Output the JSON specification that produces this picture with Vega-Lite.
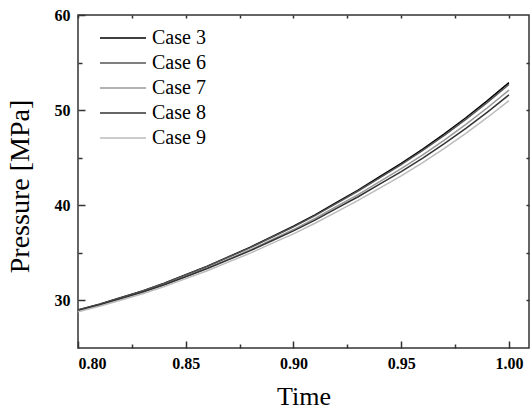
{
  "$schema": "https://vega.github.io/schema/vega-lite/v6.json",
  "width": 451,
  "height": 333,
  "autosize": "none",
  "padding": {"left": 78, "top": 15, "right": 1, "bottom": 62},
  "background": "white",
  "data": {"values": [
    {"t":0.80,"p":29.0,"c":"Case 3"},{"t":0.81,"p":29.6,"c":"Case 3"},{"t":0.82,"p":30.3,"c":"Case 3"},{"t":0.83,"p":31.0,"c":"Case 3"},{"t":0.84,"p":31.8,"c":"Case 3"},{"t":0.85,"p":32.7,"c":"Case 3"},{"t":0.86,"p":33.6,"c":"Case 3"},{"t":0.87,"p":34.6,"c":"Case 3"},{"t":0.88,"p":35.6,"c":"Case 3"},{"t":0.89,"p":36.7,"c":"Case 3"},{"t":0.90,"p":37.8,"c":"Case 3"},{"t":0.91,"p":39.0,"c":"Case 3"},{"t":0.92,"p":40.3,"c":"Case 3"},{"t":0.93,"p":41.6,"c":"Case 3"},{"t":0.94,"p":43.0,"c":"Case 3"},{"t":0.95,"p":44.4,"c":"Case 3"},{"t":0.96,"p":45.9,"c":"Case 3"},{"t":0.97,"p":47.5,"c":"Case 3"},{"t":0.98,"p":49.2,"c":"Case 3"},{"t":0.99,"p":51.0,"c":"Case 3"},{"t":1.00,"p":52.9,"c":"Case 3"},
    {"t":0.80,"p":29.0,"c":"Case 6"},{"t":0.81,"p":29.6,"c":"Case 6"},{"t":0.82,"p":30.29,"c":"Case 6"},{"t":0.83,"p":30.99,"c":"Case 6"},{"t":0.84,"p":31.78,"c":"Case 6"},{"t":0.85,"p":32.68,"c":"Case 6"},{"t":0.86,"p":33.57,"c":"Case 6"},{"t":0.87,"p":34.56,"c":"Case 6"},{"t":0.88,"p":35.55,"c":"Case 6"},{"t":0.89,"p":36.64,"c":"Case 6"},{"t":0.90,"p":37.73,"c":"Case 6"},{"t":0.91,"p":38.92,"c":"Case 6"},{"t":0.92,"p":40.21,"c":"Case 6"},{"t":0.93,"p":41.5,"c":"Case 6"},{"t":0.94,"p":42.88,"c":"Case 6"},{"t":0.95,"p":44.27,"c":"Case 6"},{"t":0.96,"p":45.76,"c":"Case 6"},{"t":0.97,"p":47.34,"c":"Case 6"},{"t":0.98,"p":49.03,"c":"Case 6"},{"t":0.99,"p":50.81,"c":"Case 6"},{"t":1.00,"p":52.7,"c":"Case 6"},
    {"t":0.80,"p":28.9,"c":"Case 7"},{"t":0.81,"p":29.49,"c":"Case 7"},{"t":0.82,"p":30.18,"c":"Case 7"},{"t":0.83,"p":30.86,"c":"Case 7"},{"t":0.84,"p":31.64,"c":"Case 7"},{"t":0.85,"p":32.51,"c":"Case 7"},{"t":0.86,"p":33.39,"c":"Case 7"},{"t":0.87,"p":34.36,"c":"Case 7"},{"t":0.88,"p":35.32,"c":"Case 7"},{"t":0.89,"p":36.39,"c":"Case 7"},{"t":0.90,"p":37.45,"c":"Case 7"},{"t":0.91,"p":38.61,"c":"Case 7"},{"t":0.92,"p":39.87,"c":"Case 7"},{"t":0.93,"p":41.13,"c":"Case 7"},{"t":0.94,"p":42.49,"c":"Case 7"},{"t":0.95,"p":43.85,"c":"Case 7"},{"t":0.96,"p":45.3,"c":"Case 7"},{"t":0.97,"p":46.85,"c":"Case 7"},{"t":0.98,"p":48.5,"c":"Case 7"},{"t":0.99,"p":50.25,"c":"Case 7"},{"t":1.00,"p":52.1,"c":"Case 7"},
    {"t":0.80,"p":28.95,"c":"Case 8"},{"t":0.81,"p":29.54,"c":"Case 8"},{"t":0.82,"p":30.21,"c":"Case 8"},{"t":0.83,"p":30.88,"c":"Case 8"},{"t":0.84,"p":31.64,"c":"Case 8"},{"t":0.85,"p":32.49,"c":"Case 8"},{"t":0.86,"p":33.35,"c":"Case 8"},{"t":0.87,"p":34.29,"c":"Case 8"},{"t":0.88,"p":35.23,"c":"Case 8"},{"t":0.89,"p":36.27,"c":"Case 8"},{"t":0.90,"p":37.31,"c":"Case 8"},{"t":0.91,"p":38.44,"c":"Case 8"},{"t":0.92,"p":39.67,"c":"Case 8"},{"t":0.93,"p":40.9,"c":"Case 8"},{"t":0.94,"p":42.22,"c":"Case 8"},{"t":0.95,"p":43.54,"c":"Case 8"},{"t":0.96,"p":44.96,"c":"Case 8"},{"t":0.97,"p":46.47,"c":"Case 8"},{"t":0.98,"p":48.08,"c":"Case 8"},{"t":0.99,"p":49.79,"c":"Case 8"},{"t":1.00,"p":51.6,"c":"Case 8"},
    {"t":0.80,"p":28.8,"c":"Case 9"},{"t":0.81,"p":29.38,"c":"Case 9"},{"t":0.82,"p":30.05,"c":"Case 9"},{"t":0.83,"p":30.7,"c":"Case 9"},{"t":0.84,"p":31.45,"c":"Case 9"},{"t":0.85,"p":32.29,"c":"Case 9"},{"t":0.86,"p":33.12,"c":"Case 9"},{"t":0.87,"p":34.05,"c":"Case 9"},{"t":0.88,"p":34.97,"c":"Case 9"},{"t":0.89,"p":35.99,"c":"Case 9"},{"t":0.90,"p":37.0,"c":"Case 9"},{"t":0.91,"p":38.11,"c":"Case 9"},{"t":0.92,"p":39.31,"c":"Case 9"},{"t":0.93,"p":40.51,"c":"Case 9"},{"t":0.94,"p":41.8,"c":"Case 9"},{"t":0.95,"p":43.1,"c":"Case 9"},{"t":0.96,"p":44.48,"c":"Case 9"},{"t":0.97,"p":45.97,"c":"Case 9"},{"t":0.98,"p":47.55,"c":"Case 9"},{"t":0.99,"p":49.23,"c":"Case 9"},{"t":1.00,"p":51.0,"c":"Case 9"}
  ]},
  "layer": [
    {
      "mark": {"type": "line", "strokeOpacity": 0},
      "encoding": {
        "x": {"field": "t", "type": "quantitative", "scale": {"domain": [0.8, 1.0093], "nice": false, "zero": false},
          "axis": {"orient": "top", "values": [0.8, 0.825, 0.85, 0.875, 0.9, 0.925, 0.95, 0.975, 1.0], "labels": false, "tickSize": -3, "title": null, "domain": false, "grid": false}},
        "y": {"field": "p", "type": "quantitative", "scale": {"domain": [25, 60], "nice": false, "zero": false},
          "axis": {"orient": "right", "values": [30, 35, 40, 45, 50, 55], "labels": false, "tickSize": -3, "title": null, "domain": false, "grid": false}},
        "detail": {"field": "c"}
      }
    },
    {
      "mark": {"type": "line", "strokeOpacity": 0},
      "encoding": {
        "x": {"field": "t", "type": "quantitative", "scale": {"domain": [0.8, 1.0093], "nice": false, "zero": false},
          "axis": {"orient": "bottom", "values": [0.825, 0.875, 0.925, 0.975], "labels": false, "tickSize": -4, "title": null, "domain": false, "grid": false}},
        "y": {"field": "p", "type": "quantitative", "scale": {"domain": [25, 60], "nice": false, "zero": false},
          "axis": {"orient": "left", "values": [35, 45, 55], "labels": false, "tickSize": -4, "title": null, "domain": false, "grid": false}},
        "detail": {"field": "c"}
      }
    },
    {
      "mark": {"type": "line", "strokeWidth": 1.5},
      "encoding": {
        "x": {"field": "t", "type": "quantitative", "scale": {"domain": [0.8, 1.0093], "nice": false, "zero": false},
          "axis": {"orient": "bottom", "values": [0.8, 0.85, 0.9, 0.95, 1.0], "format": ".2f", "tickSize": -7, "labelPadding": 14, "title": "Time", "titleFontSize": 26, "titleY": 56, "titleBaseline": "alphabetic", "domain": false, "grid": false}},
        "y": {"field": "p", "type": "quantitative", "scale": {"domain": [25, 60], "nice": false, "zero": false},
          "axis": {"orient": "left", "values": [30, 40, 50, 60], "tickSize": -7, "labelPadding": 15, "title": "Pressure [MPa]", "titleFontSize": 28, "titleX": -50, "titleY": 171, "titleAngle": -90, "titleAlign": "center", "titleBaseline": "alphabetic", "domain": false, "grid": false}},
        "color": {"field": "c", "type": "nominal",
          "scale": {"domain": ["Case 3", "Case 6", "Case 7", "Case 8", "Case 9"], "range": ["#000000", "#555555", "#999999", "#333333", "#bbbbbb"]},
          "legend": {"orient": "none", "legendX": 34, "legendY": 12, "title": null, "symbolType": "M-2.3,0H2.3", "symbolSize": 400, "symbolStrokeWidth": 1.5, "symbolFillColor": "transparent", "labelFont": "Liberation Serif", "labelFontSize": 20, "labelColor": "#000", "labelOffset": 18, "rowPadding": 4, "padding": 0}}
      }
    }
  ],
  "resolve": {"axis": {"x": "independent", "y": "independent"}},
  "config": {
    "view": {"stroke": "#333333", "strokeWidth": 1.5},
    "axis": {"tickColor": "#333333", "tickWidth": 1.5, "labelFont": "Liberation Serif", "labelFontWeight": "bold", "labelFontSize": 16, "labelColor": "#000", "titleFont": "Liberation Serif", "titleFontWeight": "normal", "titleFontSize": 26, "titleColor": "#000"}
  }
}
